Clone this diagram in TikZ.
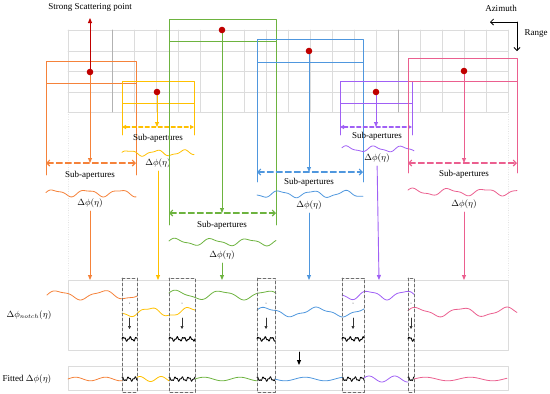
\documentclass[tikz,border=0pt]{standalone}
\usepackage{fontspec}
\setmainfont{Liberation Serif}
\usetikzlibrary{arrows.meta}
\definecolor{winorange}{HTML}{F5823A}
\definecolor{winyellow}{HTML}{FFC000}
\definecolor{wingreen}{HTML}{6DB33F}
\definecolor{winblue}{HTML}{4F97DE}
\definecolor{winpurple}{HTML}{A060F5}
\definecolor{winpink}{HTML}{EB5F8F}
\definecolor{dotred}{HTML}{C00000}
\definecolor{gridgray}{HTML}{DCDCDC}
\definecolor{boxgray}{HTML}{6E6E6E}

\tikzset{
  win/.style={line width=0.9pt},
  subarrow/.style={line width=1.1pt, dash pattern=on 6pt off 3pt,
    {Straight Barb[length=3pt,width=6pt]}-{Straight Barb[length=3pt,width=6pt]}},
  subarrowsmall/.style={line width=1.1pt, dash pattern=on 4pt off 2.5pt,
    {Triangle[length=4pt,width=4pt]}-{Triangle[length=4pt,width=4pt]}},
  wave/.style={line width=0.8pt, smooth},
  notchbox/.style={boxgray, line width=0.8pt, dashed, dash pattern=on 3pt off 2pt},
  scatdot/.style={fill=dotred, draw=none}
}

\begin{document}
\begin{tikzpicture}[
    x=1pt, y=-1pt,
    >={Triangle[length=5pt,width=4pt]},
    line cap=round,
    line join=round,
    font=\fontsize{9}{10.8}\selectfont
]
\useasboundingbox (0,0) rectangle (550,394);

% Imaging grid
\foreach \i in {0,...,20}
  \draw[gridgray, line width=0.6pt] (68+22*\i,30) -- (68+22*\i,112);
\foreach \r in {30,51,71,92,112}
  \draw[gridgray, line width=0.6pt] (68,\r) -- (508,\r);
\draw[black!30, line width=0.6pt] (112,30) -- (112,112) (398,30) -- (398,112);
\draw[gridgray, dotted] (68,112) -- (68,280) (508,112) -- (508,280);

% Bottom panels
\draw[gridgray, line width=0.7pt] (68,280) rectangle (508,350);
\draw[gridgray, line width=0.7pt] (68,366) rectangle (508,390);

% Direction axes
\node (azLbl) at (501,8) {Azimuth};
\node (rgLbl) at (536,34) {Range};
\coordinate (axC) at (517,22);
\coordinate (axL) at (490,22);
\coordinate (axD) at (517,51);
\draw[line width=0.8pt, -{Straight Barb[length=3pt,width=6pt]}] (axC) -- (axL);
\draw[line width=0.8pt, -{Straight Barb[length=3pt,width=6pt]}] (axC) -- (axD);

% Orange window
\draw[winorange, win] (46,61) rectangle (136,83);
\draw[winorange, win] (46,83) -- (46,175) (136,83) -- (136,175);
\coordinate (orDot) at (90,72);
\coordinate (orSub) at (90,163);
\coordinate (orSL) at (46,163);
\coordinate (orSR) at (136,163);
\draw[winorange, win, ->] (orDot) -- (orSub);
\draw[winorange, subarrow] (orSL) -- (orSR);
\node (orTxt) at (90,175) {Sub-apertures};
\draw[winorange, wave] plot[domain=46:136, samples=70] (\x, {193-3*sin(11*(\x-46))-1*sin(23*(\x-46)+30)});
\node (orPhi) at (90,203) {$\Delta\phi(\eta)$};
\coordinate (orIn) at (90,280);
\draw[winorange, win, ->] (orPhi) -- (orIn);

% Strong scattering point marker
\coordinate (scTop) at (90,18);
\draw[dotred, win, ->] (orDot) -- (scTop);
\node (scLbl) at (90,7) {Strong Scattering point};
\fill[scatdot] (orDot) circle (3.3);

% Yellow window
\draw[winyellow, win] (122,81) rectangle (194,103);
\draw[winyellow, win] (122,103) -- (122,135) (194,103) -- (194,135);
\coordinate (yeDot) at (157,92);
\coordinate (yeSub) at (157,127);
\coordinate (yeSL) at (122,127);
\coordinate (yeSR) at (194,127);
\draw[winyellow, win, ->] (yeDot) -- (yeSub);
\draw[winyellow, subarrowsmall] (yeSL) -- (yeSR);
\fill[scatdot] (yeDot) circle (3.3);
\node (yeTxt) at (158,138) {Sub-apertures};
\draw[winyellow, wave] plot[domain=122:194, samples=60] (\x, {153-2.5*sin(13*(\x-122))-0.8*sin(29*(\x-122)+60)});
\node (yePhi) at (158,163) {$\Delta\phi(\eta)$};
\coordinate (yeIn) at (158,280);
\draw[winyellow, win, ->] (yePhi) -- (yeIn);

% Green window
\draw[wingreen, win] (169,19) rectangle (276,41);
\draw[wingreen, win] (169,41) -- (169,225) (276,41) -- (276,225);
\coordinate (grDot) at (222,30);
\coordinate (grSub) at (222,213);
\coordinate (grSL) at (169,213);
\coordinate (grSR) at (276,213);
\draw[wingreen, win, ->] (grDot) -- (grSub);
\draw[wingreen, subarrow] (grSL) -- (grSR);
\fill[scatdot] (grDot) circle (3.3);
\node[fill=white, inner sep=1pt] (grTxt) at (222,225) {Sub-apertures};
\draw[wingreen, wave] plot[domain=169:276, samples=80] (\x, {242-3*sin(10*(\x-169)+20)-1*sin(21*(\x-169))});
\node (grPhi) at (222,255) {$\Delta\phi(\eta)$};
\coordinate (grIn) at (222,280);
\draw[wingreen, win, ->] (grPhi) -- (grIn);

% Blue window
\draw[winblue, win] (257,39) rectangle (363,62);
\draw[winblue, win] (257,62) -- (257,182) (363,62) -- (363,182);
\coordinate (blDot) at (309,51);
\coordinate (blSub) at (309,172);
\coordinate (blSL) at (257,172);
\coordinate (blSR) at (363,172);
\draw[winblue, win, ->] (blDot) -- (blSub);
\draw[winblue, subarrow] (blSL) -- (blSR);
\fill[scatdot] (blDot) circle (3.3);
\node[fill=white, inner sep=1pt] (blTxt) at (309,182) {Sub-apertures};
\draw[winblue, wave] plot[domain=257:363, samples=80] (\x, {194-3*sin(11*(\x-257)+200)-0.8*sin(25*(\x-257))});
\node (blPhi) at (309,205) {$\Delta\phi(\eta)$};
\coordinate (blIn) at (309,280);
\draw[winblue, win, ->] (blPhi) -- (blIn);

% Purple window
\draw[winpurple, win] (340,81) rectangle (412,103);
\draw[winpurple, win] (340,103) -- (340,135) (412,103) -- (412,135);
\coordinate (puDot) at (376,92);
\coordinate (puSub) at (376,127);
\coordinate (puSL) at (340,127);
\coordinate (puSR) at (412,127);
\draw[winpurple, win, ->] (puDot) -- (puSub);
\draw[winpurple, subarrowsmall] (puSL) -- (puSR);
\fill[scatdot] (puDot) circle (3.3);
\node (puTxt) at (377,136) {Sub-apertures};
\draw[winpurple, wave] plot[domain=342:414, samples=60] (\x, {149-2.5*sin(13*(\x-342)+30)-0.8*sin(27*(\x-342))});
\node (puPhi) at (377,158) {$\Delta\phi(\eta)$};
\coordinate (puIn) at (379,280);
\draw[winpurple, win, ->] (puPhi) -- (puIn);

% Pink window
\draw[winpink, win] (408,58) rectangle (517,81);
\draw[winpink, win] (408,81) -- (408,173) (517,81) -- (517,173);
\coordinate (piDot) at (464,71);
\coordinate (piSub) at (464,163);
\coordinate (piSL) at (408,163);
\coordinate (piSR) at (517,163);
\draw[winpink, win, ->] (piDot) -- (piSub);
\draw[winpink, subarrow] (piSL) -- (piSR);
\fill[scatdot] (piDot) circle (3.3);
\node (piTxt) at (464,174) {Sub-apertures};
\draw[winpink, wave] plot[domain=408:517, samples=80] (\x, {192-3*sin(10*(\x-408)+40)-1*sin(22*(\x-408))});
\node (piPhi) at (464,204) {$\Delta\phi(\eta)$};
\coordinate (piIn) at (464,280);
\draw[winpink, win, ->] (piPhi) -- (piIn);

% Notch phase rows
\node (notchLbl) at (29,315) {$\Delta\phi_{notch}(\eta)$};
\draw[winorange, wave] plot[domain=47:137, samples=70] (\x, {295-4*sin(8*(\x-47))-1*sin(19*(\x-47))});
\draw[wingreen, wave] plot[domain=169:276, samples=80] (\x, {295-4*sin(8*(\x-169)+30)-1*sin(18*(\x-169))});
\draw[winpurple, wave] plot[domain=342:414, samples=60] (\x, {295-4*sin(10*(\x-342)+180)-1*sin(22*(\x-342))});
\draw[winyellow, wave] plot[domain=122:195, samples=60] (\x, {312-4*sin(9*(\x-122)+200)-1*sin(24*(\x-122))});
\draw[winblue, wave] plot[domain=257:364, samples=80] (\x, {312-4*sin(7*(\x-257)+30)-1*sin(20*(\x-257))});
\draw[winpink, wave] plot[domain=408:517, samples=80] (\x, {312-4*sin(8*(\x-408)+20)-1*sin(19*(\x-408))});

% Notch segments and residual wiggles
\foreach \a/\b in {122/137, 169/195, 257/275, 342/364, 408/414} {
  \draw[notchbox] (\a,278) rectangle (\b,392);
  \fill[black!70] ({(\a+\b)/2},303) circle (0.5);
  \draw[black!80, line width=0.6pt, -{Triangle[length=3pt,width=3pt]}] ({(\a+\b)/2},318) -- ({(\a+\b)/2},329);
  \draw[black, line width=0.9pt] plot[domain=\a:\b, samples=60] (\x, {339-1.6*sin(55*(\x-\a))-0.8*sin(140*(\x-\a))});
  \draw[black, line width=0.8pt] plot[domain=\a:\b, samples=60] (\x, {379-1.6*sin(55*(\x-\a)+90)-0.8*sin(140*(\x-\a))});
}

% Fitting step
\coordinate (fitTop) at (299,352);
\coordinate (fitBot) at (299,365);
\draw[black, line width=0.9pt, ->] (fitTop) -- (fitBot);

% Fitted phase row
\node (fitLbl) at (27,379) {Fitted $\Delta\phi(\eta)$};
\draw[winorange, wave] plot[domain=68:122, samples=50] (\x, {379-1.8*sin(12*(\x-68))});
\draw[winyellow, wave] plot[domain=137:169, samples=40] (\x, {379-2.5*sin(17*(\x-137)+40)});
\draw[wingreen, wave] plot[domain=195:257, samples=50] (\x, {379-1.8*sin(10*(\x-195))});
\draw[winblue, wave] plot[domain=275:342, samples=50] (\x, {379-1.8*sin(9*(\x-275)+180)});
\draw[winpurple, wave] plot[domain=364:408, samples=40] (\x, {379-3*sin(14*(\x-364)+20)});
\draw[winpink, wave] plot[domain=414:507, samples=70] (\x, {379-1.8*sin(8*(\x-414))});

\end{tikzpicture}
\end{document}
